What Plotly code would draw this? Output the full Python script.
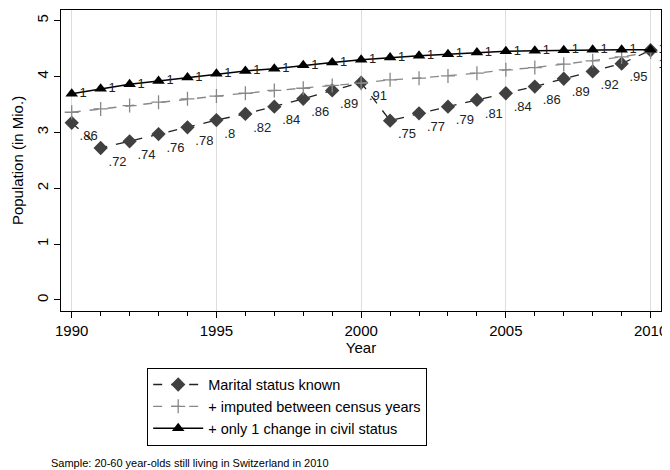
import plotly.graph_objects as go

years = list(range(1990, 2011))
known = [3.17, 2.72, 2.84, 2.97, 3.09, 3.22, 3.33, 3.46, 3.60, 3.75, 3.89,
         3.21, 3.34, 3.46, 3.58, 3.70, 3.82, 3.96, 4.09, 4.23, 4.47]
imputed = [3.36, 3.42, 3.48, 3.54, 3.60, 3.65, 3.70, 3.75, 3.79, 3.84, 3.88,
           3.94, 3.97, 4.01, 4.06, 4.12, 4.16, 4.22, 4.28, 4.35, 4.44]
civil = [3.69, 3.78, 3.86, 3.92, 3.98, 4.05, 4.10, 4.14, 4.20, 4.25, 4.30,
         4.34, 4.37, 4.40, 4.43, 4.45, 4.46, 4.47, 4.48, 4.48, 4.48]
known_labels = [".86", ".72", ".74", ".76", ".78", ".8", ".82", ".84", ".86", ".89", ".91",
                ".75", ".77", ".79", ".81", ".84", ".86", ".89", ".92", ".95", "1"]
civil_labels = ["1"] * len(years)
x_ticks = [1990, 1995, 2000, 2005, 2010]
y_ticks = [0, 1, 2, 3, 4, 5]

FONT = "Arial, Liberation Sans, sans-serif"
GRAY = "#888888"

fig = go.Figure()
fig.add_trace(go.Scatter(
    x=years, y=known, mode="lines+markers+text", name="Marital status known",
    line=dict(color="#222222", width=1.3, dash="dash"),
    marker=dict(symbol="diamond", size=11, color="#404040"),
    text=known_labels, textposition="bottom right",
    textfont=dict(size=13, color="#222222", family=FONT), cliponaxis=False,
))
fig.add_trace(go.Scatter(
    x=years, y=imputed, mode="lines+markers", name="+ imputed between census years",
    line=dict(color=GRAY, width=1.3, dash="dash"),
    marker=dict(symbol="cross-thin", size=10, line=dict(color=GRAY, width=1.3), color=GRAY),
))
fig.add_trace(go.Scatter(
    x=years, y=civil, mode="lines+markers+text", name="+ only 1 change in civil status",
    line=dict(color="#000000", width=1.5),
    marker=dict(symbol="triangle-up", size=11, color="#000000"),
    text=civil_labels, textposition="middle right",
    textfont=dict(size=13, color="#222222", family=FONT), cliponaxis=False,
))
fig.update_layout(
    width=662, height=462,
    margin=dict(l=53, r=9, t=2, b=159, autoexpand=False),
    paper_bgcolor="white", plot_bgcolor="white",
    font=dict(family=FONT, size=15, color="black"),
    xaxis=dict(
        range=[1989.63, 2010.36], tickvals=x_ticks, ticks="outside", ticklen=6,
        tickcolor="black", showline=True, linecolor="black", linewidth=1.2, mirror=True,
        showgrid=True, gridcolor="#dddddd", gridwidth=1, zeroline=False,
        minor=dict(tickvals=years, ticks="outside", ticklen=4, tickcolor="black", showgrid=False),
        title=dict(text="Year", font=dict(size=15), standoff=2),
        tickfont=dict(size=15),
    ),
    yaxis=dict(
        range=[-0.197, 5.19], tickvals=y_ticks, ticks="outside", ticklen=6, tickcolor="black",
        showline=True, linecolor="black", linewidth=1.2, mirror=True,
        showgrid=False, zeroline=False, tickangle=-90,
        title=dict(text="Population (in Mio.)", font=dict(size=15), standoff=6),
        tickfont=dict(size=15),
    ),
    legend=dict(
        x=0.377, xanchor="center", y=-0.188, yanchor="top",
        bordercolor="black", borderwidth=1, bgcolor="white",
        font=dict(size=14.5), tracegroupgap=0, itemwidth=50,
    ),
    annotations=[dict(
        text="Sample: 20-60 year-olds still living in Switzerland in 2010",
        xref="paper", yref="paper", x=-0.02, y=-0.505, xanchor="left", yanchor="middle",
        showarrow=False, font=dict(size=11),
    )],
)
fig.write_html("out.html")
